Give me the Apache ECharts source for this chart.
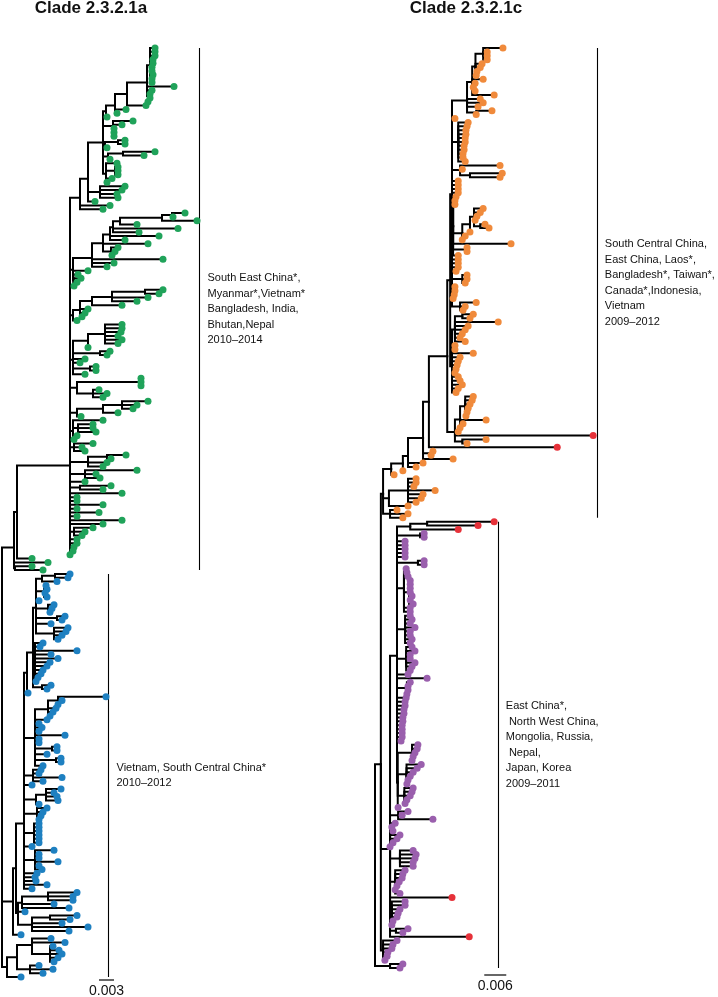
<!DOCTYPE html>
<html><head><meta charset="utf-8">
<script src="https://cdn.jsdelivr.net/npm/echarts/dist/echarts.min.js"></script>
<style>html,body{margin:0;padding:0;background:#fff}#c{width:718px;height:997px}</style>
</head><body><div id="c"></div>
<script>
// Trees: an internal node is [depth, child, child, ...]; a tip is its depth.
// 'rNNN' marks a red-highlighted tip. Depths are in 1e-4 substitutions/site.

// ---------- Clade 2.3.2.1a ----------
const greenTop = [156,
  [172,
    [202,
      [208, [226, [250, [290, [296, 306, 306, 306, 302, 302, 300, 300, 302, 300, 300], 344, [292, 300, 296, 296, 292]], 288], 248, 230], 210],
      [222, 262, 240, [224, 224, 224, 224]],
      [206, [232, 246, 246], 210],
      [212, [242, 306, 284], 216],
      [208, 230, [226, 232, 232, 232], 220, 210]
    ],
    [196, 246, 240, 230, 232],
    186
  ],
  216, 202];
const greenB = [142,
  [180,
    [202,
      [216, [222, [236, [320, [340, 366, 342], 390], 270], 352, 274], 314, 246],
      292, [218, 232, 226, 220]
    ],
    322, 224, 210
  ],
  172, [143, 152, 158, 150, 144]];
const greenC = [142, [156, [180, [220, [286, 322, 314], 292, 270], 240], 172, 166, 160], 150];
const greenD = [142, [172, [206, 240, 240, 238, 232, 240, 232], 172], [196, 216, 210], 166, 156, [176, 188, 188], 166];
const greenE1 = [150, [276, 278, 278, 278], [182, 194, 210, 202]];
const greenE2 = [150, [202, [240, 292, 270, 262], 232], 158];
const greenE3 = [142, 202, [152, 182, 182, 188], 150, 144];
const greenE4 = [144, 182, 160, 166];
const greenMain = [136, greenTop, greenB, greenC, greenD, greenE1, greenE2, greenE3, greenE4,
  [172, [210, 248, 218], 210, 202],
  [166, 270, 188, 196],
  166,
  [156, 218, 202],
  240,
  150, 150, 202, 150, 194, 150, 240, 202,
  [144, 182, 166, 160],
  150, 150, 144, 142, 136];
const greenSide = [24, [30, greenMain, 60], 92, [26, 60, 82]];

const blueA = [50,
  [62,
    [68, [80, [106, 136, 132], 110], [84, 88, 90, 86, 90], 74, [92, 104, 100, 96], [110, 126, 120], 98, [104, 132, 128, 120, 112]],
    [66, 82, 76, 150, 98, 112, 96, 90, 82, 78, 72, 68],
    [80, 98, 90]
  ],
  52];
const blueB = [66, [92, [112, 208, 120, 112], 108, 102, 96], 90, 74, 80, 74, 126, 74, 74, [100, 110, 110], 90, [108, 118, 118], 82];
const blueUpper = [44, blueA, blueB,
  [62, 78, 74, 120, 82], 60, [68, [88, 118, 104, 110, 112], 74], [70, 90, 82, 78, 74],
  [64, 74, 74, 74, 74, 74, 74], 60, [66, 104, 74, 74, 112, 74, 80], 70, 66, 68, 90, 60];
const blueD = [32, [40, [92, 150, 142, 142], 104, 134], 46, [60, [96, 150, 136], 120, 172, 134]];
const blueE = [30, [60, 98, 126, [96, 102, 114, 120, 112, 104]], [56, 74, 102, 82]];

const leftTree = [0,
  {c: 'green', n: greenSide},
  {c: 'blue', n: [22, [28, blueUpper, blueD], 38]},
  {c: 'blue', n: [10, blueE, 38]}];

// ---------- Clade 2.3.2.1c ----------
const orangeA = [251,
  [265, [274, [295, 349, 306, 306, 306], 292, 287, 278, 276], 295, [268, 273, 268, 273], [281, 325]],
  287, 295, 281, [276, 319, 276]];
const orangeB = [210, 218, [227, 254, 251, 248, 248, 246, 246, 243, 243, 240, 240, 246], [232, 341, 238, [259, 347, 341]], 227, 227, 227, 227];
const orangeC = [213, 221, 218, 218, [238, [259, [270, 295, 287, 278, 273, [287, 300, 311]], 259], 246, 238], 371, [246, 251, 251], 227];
const orangeD = [210, 227, 227, 227, 221, [238, 251, 251, 246], 218, 218, 216, 213, [232, 276, 246, 240]];
const orangeE = [210, [218, [238, 268, 259], 336, 254, 246, 238, 232, 246], 218, 218, 268, 232, 227, 224, 221, 218, 227, 232, 238, 227, 221];
const orangeF = [218, [232, [246, 268, 265, 259, 254, 251, 248], 303, 240, 232], 227, 'r595', [238, 303, 251]];
const orangeCore = [147, [197, [205, [210, orangeA, orangeB, orangeC, orangeD], orangeE], orangeF], 'r497'];
const orangeBase = [44, [76, [90, [131, orangeCore, [153, 158, 153], 213], 131, 112], 76], 52];
const orangeTail1 = [38, [90, 112, 112, 106, 164, 131, 126, 112], 90];
const orangeTail2 = [41, 60, 90, 76];

const purpleTop = [60,
  [96, [142, 'r325', 'r281'], 'r227'],
  [123, 134, 134],
  82, 82, 82, 82, 82,
  [117, 134, 134],
  [79, 85, 87, 90, [93, 96, 96, 96, 96, 101, 96, 104], 96, 96],
  [82, 96, 101, 96, 109, 96, 96, 101, 96],
  [85, 101, 109, 96, 96, 109, 101, 96],
  90, 142,
  [87, 96, 90, 90, 87],
  85, 82, 82, 79, 79, 76, 76, 74, 74, 74, 74, 71,
  [62, [101, 117, 115, 109, 104, 101], [86, 126, 115, 104, 96, 90, 87], [80, 104, 101, 96, 87, 82], 63]];
const purpleMain = [41, purpleTop,
  [63, 90, 74, 158], 55, 46, 49, 68, 60, 49, 41,
  [68, 104, 112, 109, 104, 104],
  [55, 82, 76, 74, 66, 60, 55, 68],
  'r210',
  [46, 82, 82, 68, 63, 60, 49, 46],
  [57, 90, 76],
  'r257'];
const purpleTail = [22, 60, 49, 46, 35, 33, 27];
const purpleRoot = [41, 76, 68];

const rightTree = [0,
  [16,
    [22, {c: 'orange', n: orangeBase}, {c: 'orange', n: orangeTail1}, {c: 'orange', n: orangeTail2}],
    {c: 'purple', n: purpleMain},
    {c: 'purple', n: purpleTail}],
  {c: 'purple', n: purpleRoot}];

const titles = ['Clade 2.3.2.1a', 'Clade 2.3.2.1c'];
const cladeLabels = {
  green: ['South East China*,', 'Myanmar*,Vietnam*', 'Bangladesh, India,', 'Bhutan,Nepal', '2010–2014'],
  blue: ['Vietnam, South Central China*', '2010–2012'],
  orange: ['South Central China,', 'East China, Laos*,', 'Bangladesh*, Taiwan*,', 'Canada*,Indonesia,', 'Vietnam', '2009–2012'],
  purple: ['East China*,', ' North West China,', 'Mongolia, Russia,', ' Nepal,', 'Japan, Korea', '2009–2011']
};
const scaleValues = [0.003, 0.006];          // substitutions/site
const scaleStarts = [194, 298];              // scale-bar start, 1e-4 subs/site
const colors = {green: '#20a35a', blue: '#1e80c1', orange: '#f08a3b', purple: '#9a5fad', red: '#e63139'};

function layoutTree(root) {
  const segs = [], tips = [], clades = {};
  let idx = 0;
  function walk(node, clade) {
    if (node && !Array.isArray(node) && typeof node === 'object') return walk(node.n, node.c);
    if (Array.isArray(node)) {
      const x = node[0];
      const kids = node.slice(1).map(ch => walk(ch, clade));
      const y = kids.reduce((s, k) => s + k.y, 0) / kids.length;
      kids.forEach(k => segs.push([[x, y], [x, k.y], [k.x, k.y]]));
      return {x, y};
    }
    const red = typeof node === 'string';
    const x = red ? parseFloat(node.slice(1)) : node;
    const y = idx++;
    tips.push({x, y, color: red ? 'red' : clade});
    if (clade) {
      const c = clades[clade] || (clades[clade] = {min: y, max: y, xmax: x});
      c.min = Math.min(c.min, y); c.max = Math.max(c.max, y); c.xmax = Math.max(c.xmax, x);
    }
    return {x, y};
  }
  walk(root, null);
  return {segs, tips, clades, n: idx};
}

const trees = [layoutTree(leftTree), layoutTree(rightTree)];
const barOffset = [5, 10];

const chart = echarts.init(document.getElementById('c'), null, {renderer: 'canvas'});
const series = [];
trees.forEach((T, gi) => {
  series.push({
    type: 'lines', coordinateSystem: 'cartesian2d', xAxisIndex: gi, yAxisIndex: gi,
    polyline: true, silent: true, clip: false,
    data: T.segs.map(s => ({coords: s})),
    lineStyle: {color: '#000', width: 2, opacity: 1, cap: 'square', join: 'miter'}, z: 2
  });
  series.push({
    type: 'lines', coordinateSystem: 'cartesian2d', xAxisIndex: gi, yAxisIndex: gi,
    silent: true, clip: false,
    data: Object.keys(T.clades).map(k => {
      const c = T.clades[k];
      const bx = c.xmax + barOffset[gi];
      return {coords: [[bx, c.min], [bx, c.max]]};
    }),
    lineStyle: {color: '#000', width: 1.1, opacity: 1}, z: 2
  });
  ['green', 'blue', 'orange', 'purple', 'red'].forEach(col => {
    const d = T.tips.filter(t => t.color === col).map(t => [t.x, t.y]);
    if (!d.length) return;
    series.push({
      type: 'scatter', xAxisIndex: gi, yAxisIndex: gi, data: d, symbolSize: 7,
      itemStyle: {color: colors[col], opacity: 1}, silent: true, clip: false, z: 3
    });
  });
});

chart.setOption({
  animation: false,
  grid: [
    {left: 2, top: 48, width: 200, height: 929},
    {left: 375, top: 48, width: 220, height: 920}
  ],
  xAxis: [
    {type: 'value', gridIndex: 0, min: 0, max: 400, show: false},
    {type: 'value', gridIndex: 1, min: 0, max: 600, show: false}
  ],
  yAxis: [
    {type: 'value', gridIndex: 0, min: 0, max: trees[0].n - 1, inverse: true, show: false},
    {type: 'value', gridIndex: 1, min: 0, max: trees[1].n - 1, inverse: true, show: false}
  ],
  series
});

const FONT = '"Liberation Sans", Arial, Helvetica, sans-serif';
const graphic = [];
const titleX = [91, 466];
titles.forEach((t, i) => graphic.push({
  type: 'text', x: titleX[i], y: 8,
  style: {text: t, font: 'bold 17px ' + FONT, fill: '#111', align: 'center', verticalAlign: 'middle'}
}));
trees.forEach((T, gi) => {
  Object.keys(T.clades).forEach(k => {
    const c = T.clades[k];
    const top = chart.convertToPixel({gridIndex: gi}, [c.xmax + barOffset[gi], c.min]);
    const bot = chart.convertToPixel({gridIndex: gi}, [c.xmax + barOffset[gi], c.max]);
    graphic.push({
      type: 'text', x: top[0] + 8, y: (top[1] + bot[1]) / 2,
      style: {text: cladeLabels[k].join('\n'), font: '11px ' + FONT, fill: '#111',
        align: 'left', verticalAlign: 'middle', lineHeight: 15.5}
    });
  });
  const unit = scaleValues[gi] * 1e4;
  const a = chart.convertToPixel({gridIndex: gi}, [scaleStarts[gi], T.n - 1]);
  const b = chart.convertToPixel({gridIndex: gi}, [scaleStarts[gi] + unit, T.n - 1]);
  const yb = a[1] + (gi === 0 ? 3 : 7);
  graphic.push({type: 'line', shape: {x1: a[0], y1: yb, x2: b[0], y2: yb}, style: {stroke: '#000', lineWidth: 1.2}});
  graphic.push({
    type: 'text', x: (a[0] + b[0]) / 2, y: yb + 11,
    style: {text: String(scaleValues[gi]), font: '14px ' + FONT, fill: '#111', align: 'center', verticalAlign: 'middle'}
  });
});
chart.setOption({graphic});
</script></body></html>
